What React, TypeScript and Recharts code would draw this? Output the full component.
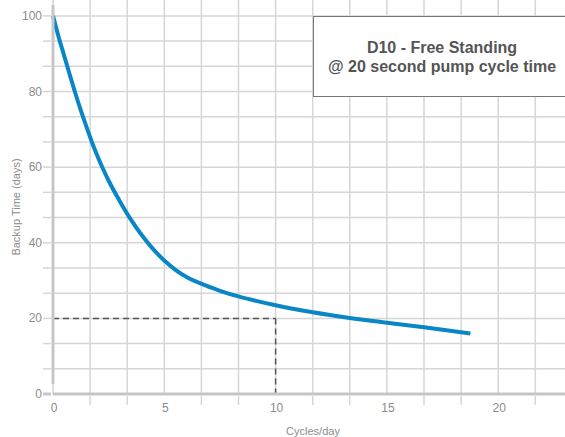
import { CartesianGrid, Label, Line, LineChart, ReferenceLine, XAxis, YAxis } from "recharts";

const cycles = [0, 0.25, 0.5, 0.75, 1, 1.25, 1.5, 1.75, 2, 2.25, 2.5, 2.75, 3, 3.5, 4, 4.5, 5, 5.5, 6, 6.6, 7.5, 8.33, 9.17, 10, 11.67, 13.33, 15, 16.67, 18.75];
const backupDays = [100, 94.5, 89.5, 84.5, 79.6, 75, 70.7, 66.6, 62.9, 59.5, 56.4, 53.6, 51, 46.1, 41.9, 38.3, 35.3, 32.85, 30.95, 29.3, 27.3, 25.8, 24.55, 23.45, 21.6, 20.1, 18.85, 17.65, 16.0];
const xLabels = [0, 5, 10, 15, 20];
const yLabels = [0, 20, 40, 60, 80, 100];
const markCycles = 10;
const markDays = 20;

const data = cycles.map((c, i) => ({ cycles: c, days: backupDays[i] }));

// grid runs every third of a labelled step
const xGrid = Array.from({ length: 14 }, (_, i) => (i * 5) / 3);
const yGrid = Array.from({ length: 16 }, (_, i) => (i * 20) / 3);

const GRID = "#d6d6d6";
const AXIS = "#c6c6c6";
const TEXT = "#8c8c8c";
const FONT = "'Liberation Sans', Arial, sans-serif";

const isLabel = (v: number, list: number[]) => list.some((l) => Math.abs(l - v) < 0.01);

function XTick({ x, y, payload }: any) {
  const v = payload.value;
  if (isLabel(v, xLabels)) {
    return (
      <text x={x + 1} y={y + 16} textAnchor="middle" fontSize={12} fill={TEXT}>
        {Math.round(v)}
      </text>
    );
  }
  return <line x1={x} x2={x} y1={y} y2={y + 9} stroke={GRID} strokeWidth={1.5} />;
}

function YTick({ x, y, payload }: any) {
  const v = payload.value;
  return (
    <g>
      <line x1={x - 8} x2={x} y1={y} y2={y} stroke={v === 0 ? AXIS : GRID} strokeWidth={v === 0 ? 3 : 1.5} />
      {isLabel(v, yLabels) && (
        <text x={x - 9} y={y} dy={4} textAnchor="end" fontSize={12} fill={TEXT}>
          {Math.round(v)}
        </text>
      )}
    </g>
  );
}

export default function App() {
  return (
    <div style={{ position: "absolute", left: 0, top: 0, width: 565, height: 437, background: "#fff", fontFamily: FONT }}>
      <LineChart width={565} height={437} data={data} margin={{ top: 0, right: 0, bottom: 0, left: 0 }}>
        <CartesianGrid stroke={GRID} strokeWidth={1.5} horizontalValues={yGrid} verticalValues={xGrid} />
        <XAxis
          dataKey="cycles"
          type="number"
          domain={[0, 23]}
          ticks={xGrid}
          interval={0}
          height={43}
          tickSize={0}
          tickLine={false}
          tick={<XTick />}
          axisLine={{ stroke: AXIS, strokeWidth: 3 }}
        >
          <Label value="Cycles/day" position="insideBottom" offset={2} dx={4} fontSize={11} fill={TEXT} />
        </XAxis>
        <YAxis
          type="number"
          domain={[0, 104.2]}
          ticks={yGrid}
          interval={0}
          width={53}
          tickSize={0}
          tickLine={false}
          tick={<YTick />}
          axisLine={{ stroke: AXIS, strokeWidth: 3, strokeDasharray: "0 5 379 1000" }}
        >
          <Label
            content={() => (
              <text x={16} y={207} transform="rotate(-90 16 207)" textAnchor="middle" dominantBaseline="central" fontSize={11} fill={TEXT}>
                Backup Time (days)
              </text>
            )}
          />
        </YAxis>
        <ReferenceLine
          segment={[{ x: 0, y: markDays }, { x: markCycles, y: markDays }]}
          stroke="#555"
          strokeWidth={1.5}
          strokeDasharray="6 4"
        />
        <ReferenceLine
          segment={[{ x: markCycles, y: markDays }, { x: markCycles, y: 0 }]}
          stroke="#555"
          strokeWidth={1.5}
          strokeDasharray="6 4"
        />
        <Line
          type="monotone"
          dataKey="days"
          stroke="#0a86c6"
          strokeWidth={4}
          dot={false}
          isAnimationActive={false}
        />
      </LineChart>
      <div
        style={{
          position: "absolute",
          left: 313,
          top: 16,
          width: 270,
          height: 79,
          background: "#fff",
          border: "1px solid #777",
        }}
      />
      <div
        style={{
          position: "absolute",
          left: 302,
          top: 38,
          width: 280,
          textAlign: "center",
          fontWeight: "bold",
          fontSize: 16,
          lineHeight: "19px",
          color: "#555",
          whiteSpace: "nowrap",
        }}
      >
        D10 - Free Standing
        <br />@ 20 second pump cycle time
      </div>
    </div>
  );
}
